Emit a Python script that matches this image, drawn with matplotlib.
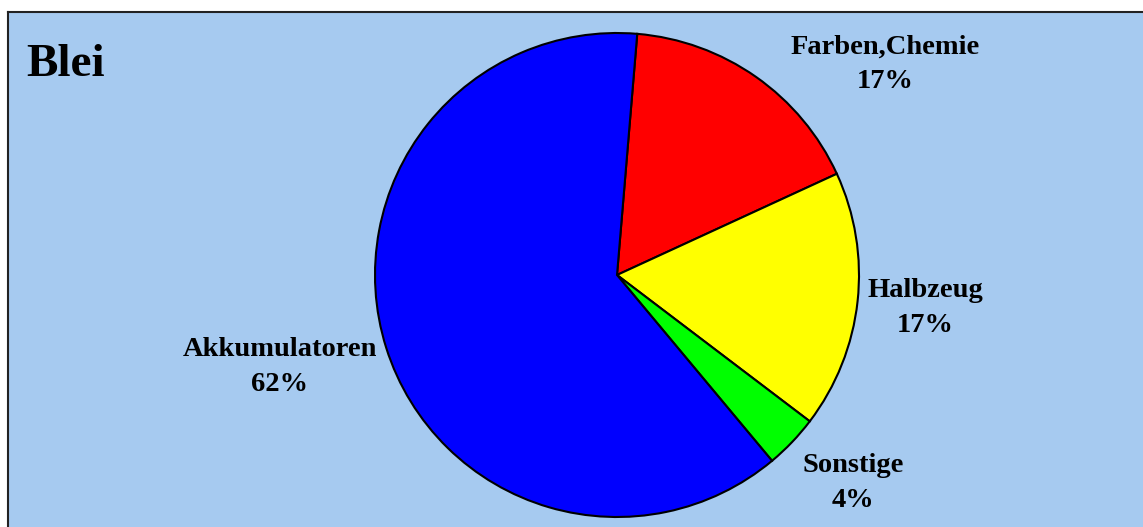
import matplotlib.pyplot as plt

# data
labels = ['Farben,Chemie', 'Halbzeug', 'Sonstige', 'Akkumulatoren']
values = [16.8, 17.2, 3.6, 62.4]
colors = ['#FF0000', '#FFFF00', '#00FF00', '#0000FF']
# label centres in pie data units (radius = 1)
label_pos = [(1.107, 0.87), (1.273, -0.136), (0.975, -0.86), (-1.393, -0.38)]

W, H = 1143, 527
fig = plt.figure(figsize=(W / 100, H / 100), dpi=100)
fig.patch.set_facecolor('white')

# background panel with top/left frame
bg = fig.add_axes([8 / W, 0, 1, (H - 12) / H])
bg.set_facecolor('#A6CAF0')
bg.set_xticks([])
bg.set_yticks([])
for s in ['right', 'bottom']:
    bg.spines[s].set_visible(False)
for s in ['top', 'left']:
    bg.spines[s].set_linewidth(1.5)
    bg.spines[s].set_color('#222222')

cx, cy, r = 617, 275, 242
ax = fig.add_axes([(cx - r) / W, (H - cy - r) / H, 2 * r / W, 2 * r / H])
ax.set_facecolor('none')
wedges, _ = ax.pie(values, colors=colors, startangle=85.2, counterclock=False,
                   wedgeprops=dict(edgecolor='black', linewidth=1.5))
for w in wedges:
    w.set_clip_on(False)
ax.set_xlim(-1, 1)
ax.set_ylim(-1, 1)
ax.axis('off')

font = dict(family='Liberation Serif', weight='bold', size=20.5)
for lab, v, (x, y) in zip(labels, values, label_pos):
    ax.text(x, y, f'{lab}\n{round(v)}%', ha='center', va='center',
            linespacing=1.5, clip_on=False, **font)

fig.text(26 / W, (H - 65) / H, 'Blei', ha='left', va='center',
         family='Liberation Serif', weight='bold', size=34)

fig.savefig('out.png', dpi=100)
